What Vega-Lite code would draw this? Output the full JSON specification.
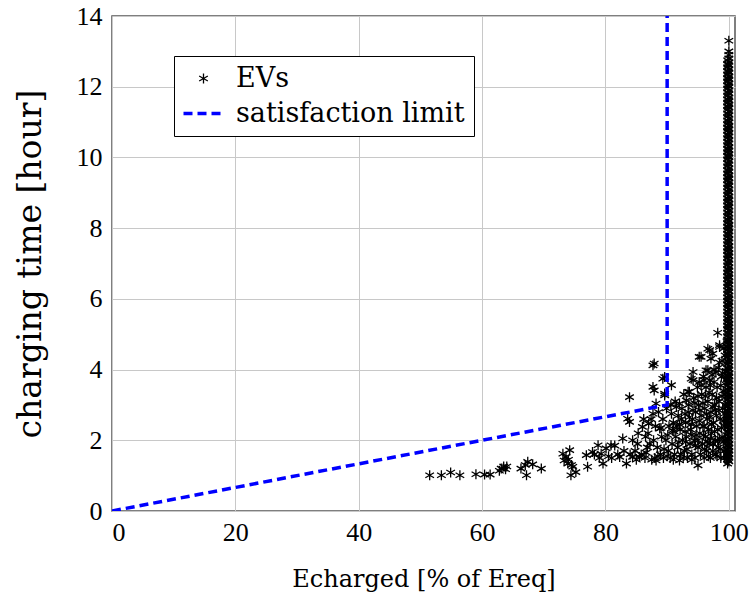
{
  "$schema": "https://vega.github.io/schema/vega-lite/v6.json",
  "width": 623,
  "height": 495,
  "autosize": {"type": "none"},
  "padding": {"left": 112, "top": 16, "right": 19, "bottom": 90},
  "background": "white",
  "config": {
    "view": {"stroke": "#555555", "strokeWidth": 1.5},
    "axis": {
      "grid": true, "gridColor": "#c8c8c8", "gridWidth": 1, "domain": false, "ticks": false,
      "labelFont": "Liberation Serif", "labelFontSize": 26, "labelColor": "#000000",
      "titleFont": "DejaVu Serif", "titleFontWeight": "normal", "titleColor": "#000000"
    }
  },
  "datasets": {
    "limit": [
      {"s": "satisfaction limit", "x": 0, "y": 0, "o": 1},
      {"s": "satisfaction limit", "x": 90, "y": 3, "o": 2},
      {"s": "satisfaction limit", "x": 90, "y": 14, "o": 3}
    ],
    "ev": [
      {"s":"EVs","x":51.5,"y":1.01},{"s":"EVs","x":53.4,"y":1.01},{"s":"EVs","x":54.9,"y":1.09},{"s":"EVs","x":56.4,"y":1.01},
      {"s":"EVs","x":59.0,"y":1.04},{"s":"EVs","x":60.4,"y":1.03},{"s":"EVs","x":61.3,"y":1.03},{"s":"EVs","x":62.8,"y":1.14},
      {"s":"EVs","x":63.1,"y":1.2},{"s":"EVs","x":63.5,"y":1.26},{"s":"EVs","x":64.0,"y":1.26},{"s":"EVs","x":63.8,"y":1.18},
      {"s":"EVs","x":66.3,"y":1.2},{"s":"EVs","x":67.4,"y":1.39},{"s":"EVs","x":68.2,"y":1.32},{"s":"EVs","x":69.6,"y":1.2},
      {"s":"EVs","x":67.2,"y":1.01},{"s":"EVs","x":67.0,"y":1.3},
      {"s":"EVs","x":73.1,"y":1.62},{"s":"EVs","x":74.2,"y":1.72},{"s":"EVs","x":73.3,"y":1.43},{"s":"EVs","x":73.9,"y":1.34},
      {"s":"EVs","x":74.7,"y":1.25},{"s":"EVs","x":75.2,"y":1.1},{"s":"EVs","x":74.4,"y":1.01},{"s":"EVs","x":73.6,"y":1.53},
      {"s":"EVs","x":74.0,"y":1.45},{"s":"EVs","x":74.5,"y":1.3},{"s":"EVs","x":77.1,"y":1.25},{"s":"EVs","x":76.9,"y":1.58},
      {"s":"EVs","x":77.9,"y":1.67},{"s":"EVs","x":78.8,"y":1.86},{"s":"EVs","x":79.3,"y":1.62},{"s":"EVs","x":79.6,"y":1.34},
      {"s":"EVs","x":80.1,"y":1.77},{"s":"EVs","x":80.9,"y":1.86},{"s":"EVs","x":79.0,"y":1.5},{"s":"EVs","x":78.2,"y":1.6},
      {"s":"EVs","x":81.5,"y":1.85},{"s":"EVs","x":82.3,"y":1.53},{"s":"EVs","x":82.8,"y":2.05},{"s":"EVs","x":83.4,"y":1.34},
      {"s":"EVs","x":83.9,"y":3.22},{"s":"EVs","x":83.6,"y":2.61},{"s":"EVs","x":83.9,"y":2.52},{"s":"EVs","x":84.4,"y":2.0},
      {"s":"EVs","x":84.4,"y":1.53},{"s":"EVs","x":84.8,"y":1.7},{"s":"EVs","x":85.5,"y":1.53},{"s":"EVs","x":85.2,"y":1.9},
      {"s":"EVs","x":86.0,"y":2.38},{"s":"EVs","x":86.5,"y":2.1},{"s":"EVs","x":87.0,"y":2.47},{"s":"EVs","x":86.8,"y":1.8},
      {"s":"EVs","x":87.7,"y":4.12},{"s":"EVs","x":87.9,"y":4.17},{"s":"EVs","x":87.7,"y":3.51},{"s":"EVs","x":87.9,"y":3.41},
      {"s":"EVs","x":88.2,"y":3.04},{"s":"EVs","x":87.7,"y":2.75},{"s":"EVs","x":88.8,"y":2.33},{"s":"EVs","x":88.2,"y":1.43},
      {"s":"EVs","x":88.5,"y":1.55},{"s":"EVs","x":88.0,"y":1.5},{"s":"EVs","x":87.5,"y":1.45},{"s":"EVs","x":89.6,"y":3.79},
      {"s":"EVs","x":89.6,"y":3.32},{"s":"EVs","x":89.3,"y":3.74},{"s":"EVs","x":89.6,"y":3.27},{"s":"EVs","x":90.7,"y":3.56},
      {"s":"EVs","x":90.7,"y":2.75},{"s":"EVs","x":90.9,"y":2.28},{"s":"EVs","x":91.5,"y":2.94},{"s":"EVs","x":92.0,"y":3.04},
      {"s":"EVs","x":92.0,"y":1.43},{"s":"EVs","x":93.1,"y":3.13},{"s":"EVs","x":93.6,"y":3.37},{"s":"EVs","x":93.4,"y":3.37},
      {"s":"EVs","x":94.2,"y":3.93},{"s":"EVs","x":94.2,"y":3.7},{"s":"EVs","x":93.9,"y":3.74},{"s":"EVs","x":95.5,"y":4.36},
      {"s":"EVs","x":95.2,"y":4.36},{"s":"EVs","x":95.2,"y":3.65},{"s":"EVs","x":96.9,"y":4.55},{"s":"EVs","x":97.1,"y":4.31},
      {"s":"EVs","x":96.6,"y":4.59},{"s":"EVs","x":97.4,"y":4.45},{"s":"EVs","x":98.2,"y":5.04},{"s":"EVs","x":98.5,"y":4.64},
      {"s":"EVs","x":98.5,"y":4.69},{"s":"EVs","x":96.6,"y":3.98},{"s":"EVs","x":96.3,"y":3.98},{"s":"EVs","x":97.9,"y":3.93},
      {"s":"EVs","x":95.0,"y":1.29},{"s":"EVs","x":99.8,"y":1.34},
      {"s":"EVs","x":85.3,"y":2.2},{"s":"EVs","x":85.8,"y":1.6},{"s":"EVs","x":86.2,"y":2.6},{"s":"EVs","x":86.4,"y":1.5},
      {"s":"EVs","x":86.9,"y":2.2},{"s":"EVs","x":87.2,"y":1.9},{"s":"EVs","x":87.4,"y":2.6},{"s":"EVs","x":87.8,"y":2.0},
      {"s":"EVs","x":88.1,"y":2.4},{"s":"EVs","x":88.4,"y":1.8},{"s":"EVs","x":88.6,"y":2.8},{"s":"EVs","x":88.9,"y":1.6},
      {"s":"EVs","x":89.1,"y":2.1},{"s":"EVs","x":89.3,"y":2.6},{"s":"EVs","x":89.4,"y":1.5},{"s":"EVs","x":89.8,"y":2.0},
      {"s":"EVs","x":89.9,"y":2.9},{"s":"EVs","x":90.2,"y":1.7},{"s":"EVs","x":90.3,"y":2.4},{"s":"EVs","x":90.5,"y":1.5},
      {"s":"EVs","x":90.6,"y":3.0},{"s":"EVs","x":90.8,"y":1.9},{"s":"EVs","x":91.0,"y":2.5},{"s":"EVs","x":91.2,"y":1.6},
      {"s":"EVs","x":91.3,"y":3.1},{"s":"EVs","x":91.4,"y":2.1},{"s":"EVs","x":91.7,"y":1.8},{"s":"EVs","x":91.8,"y":2.7},
      {"s":"EVs","x":92.1,"y":2.3},{"s":"EVs","x":92.2,"y":1.6},{"s":"EVs","x":92.4,"y":2.9},{"s":"EVs","x":92.5,"y":2.0},
      {"s":"EVs","x":92.7,"y":3.3},{"s":"EVs","x":92.8,"y":1.7},{"s":"EVs","x":93.0,"y":2.5},{"s":"EVs","x":93.1,"y":2.1},
      {"s":"EVs","x":93.3,"y":1.5},{"s":"EVs","x":93.4,"y":2.8},{"s":"EVs","x":93.5,"y":3.0},{"s":"EVs","x":93.7,"y":1.9},
      {"s":"EVs","x":93.8,"y":2.3},{"s":"EVs","x":94.0,"y":1.6},{"s":"EVs","x":94.1,"y":2.6},{"s":"EVs","x":94.3,"y":3.2},
      {"s":"EVs","x":94.4,"y":2.0},{"s":"EVs","x":94.5,"y":1.5},{"s":"EVs","x":94.6,"y":2.8},{"s":"EVs","x":94.8,"y":2.4},
      {"s":"EVs","x":94.9,"y":3.5},{"s":"EVs","x":95.0,"y":1.8},{"s":"EVs","x":95.1,"y":3.0},{"s":"EVs","x":95.3,"y":2.2},
      {"s":"EVs","x":95.4,"y":1.6},{"s":"EVs","x":95.5,"y":2.7},{"s":"EVs","x":95.6,"y":3.3},{"s":"EVs","x":95.7,"y":1.9},
      {"s":"EVs","x":95.8,"y":2.4},{"s":"EVs","x":95.9,"y":3.8},{"s":"EVs","x":96.0,"y":1.5},{"s":"EVs","x":96.1,"y":2.9},
      {"s":"EVs","x":96.2,"y":2.1},{"s":"EVs","x":96.3,"y":3.5},{"s":"EVs","x":96.4,"y":1.7},{"s":"EVs","x":96.5,"y":2.6},
      {"s":"EVs","x":96.6,"y":3.1},{"s":"EVs","x":96.7,"y":2.3},{"s":"EVs","x":96.8,"y":1.9},{"s":"EVs","x":96.9,"y":3.7},
      {"s":"EVs","x":97.0,"y":1.5},{"s":"EVs","x":97.1,"y":2.8},{"s":"EVs","x":97.2,"y":2.2},{"s":"EVs","x":97.3,"y":3.3},
      {"s":"EVs","x":97.4,"y":1.7},{"s":"EVs","x":97.5,"y":2.5},{"s":"EVs","x":97.6,"y":4.0},{"s":"EVs","x":97.7,"y":3.0},
      {"s":"EVs","x":97.8,"y":2.0},{"s":"EVs","x":97.9,"y":1.6},{"s":"EVs","x":98.0,"y":2.7},{"s":"EVs","x":98.1,"y":3.5},
      {"s":"EVs","x":98.2,"y":2.3},{"s":"EVs","x":98.3,"y":1.8},{"s":"EVs","x":98.4,"y":3.1},{"s":"EVs","x":98.5,"y":4.2},
      {"s":"EVs","x":98.6,"y":2.6},{"s":"EVs","x":98.7,"y":1.5},{"s":"EVs","x":98.8,"y":3.8},{"s":"EVs","x":98.9,"y":2.1},
      {"s":"EVs","x":99.0,"y":2.9},{"s":"EVs","x":99.1,"y":3.4},{"s":"EVs","x":99.2,"y":1.7},{"s":"EVs","x":99.3,"y":2.4},
      {"s":"EVs","x":99.4,"y":4.4},{"s":"EVs","x":99.5,"y":3.0},{"s":"EVs","x":99.5,"y":2.0},{"s":"EVs","x":99.6,"y":1.6},
      {"s":"EVs","x":99.6,"y":3.7},{"s":"EVs","x":99.7,"y":2.7},{"s":"EVs","x":99.7,"y":4.8},
      {"s":"EVs","x":93.2,"y":1.75},{"s":"EVs","x":94.7,"y":2.15},{"s":"EVs","x":95.2,"y":2.55},{"s":"EVs","x":96.1,"y":1.75},
      {"s":"EVs","x":97.4,"y":2.95},{"s":"EVs","x":98.8,"y":2.35},{"s":"EVs","x":97.0,"y":3.55},{"s":"EVs","x":95.8,"y":3.05},
      {"s":"EVs","x":94.2,"y":2.85},{"s":"EVs","x":92.9,"y":2.25},{"s":"EVs","x":91.9,"y":1.95},{"s":"EVs","x":90.1,"y":2.15},
      {"s":"EVs","x":89.5,"y":1.75},{"s":"EVs","x":98.3,"y":4.05},{"s":"EVs","x":99.2,"y":4.6},{"s":"EVs","x":99.0,"y":3.9},
      {"s":"EVs","x":98.0,"y":3.2},{"s":"EVs","x":96.0,"y":2.4},{"s":"EVs","x":95.0,"y":2.0},{"s":"EVs","x":97.5,"y":1.9},
      {"s":"EVs","x":98.6,"y":1.75},{"s":"EVs","x":99.3,"y":1.5},{"s":"EVs","x":96.7,"y":1.55},{"s":"EVs","x":94.0,"y":1.45},
      {"s":"EVs","x":92.6,"y":1.5},{"s":"EVs","x":91.0,"y":1.45},{"s":"EVs","x":90.0,"y":1.55},{"s":"EVs","x":86.6,"y":1.65},
      {"s":"EVs","x":85.0,"y":1.45},{"s":"EVs","x":84.0,"y":1.6},{"s":"EVs","x":83.0,"y":1.7},{"s":"EVs","x":82.0,"y":1.6},
      {"s":"EVs","x":81.0,"y":1.5},{"s":"EVs","x":80.5,"y":1.55},
      {"s":"EVs","x":96.4,"y":2.75},{"s":"EVs","x":97.2,"y":2.45},{"s":"EVs","x":97.8,"y":2.85},{"s":"EVs","x":98.5,"y":2.05},
      {"s":"EVs","x":98.9,"y":3.25},{"s":"EVs","x":99.3,"y":2.75},{"s":"EVs","x":99.1,"y":1.95},{"s":"EVs","x":98.1,"y":1.55},
      {"s":"EVs","x":97.6,"y":3.65},{"s":"EVs","x":96.8,"y":3.35},{"s":"EVs","x":95.5,"y":3.55},{"s":"EVs","x":94.6,"y":1.85},
      {"s":"EVs","x":93.6,"y":2.65},{"s":"EVs","x":92.3,"y":2.6},{"s":"EVs","x":91.1,"y":2.25},{"s":"EVs","x":89.0,"y":2.35},
      {"s":"EVs","x":92.0,"y":2.45},{"s":"EVs","x":92.9,"y":2.75},{"s":"EVs","x":93.9,"y":2.45},{"s":"EVs","x":94.5,"y":3.05},
      {"s":"EVs","x":95.3,"y":2.85},{"s":"EVs","x":96.2,"y":3.25},{"s":"EVs","x":96.9,"y":2.65},{"s":"EVs","x":97.7,"y":2.25},
      {"s":"EVs","x":98.4,"y":2.85},{"s":"EVs","x":99.1,"y":2.55},{"s":"EVs","x":98.7,"y":3.55},{"s":"EVs","x":97.3,"y":3.85},
      {"s":"EVs","x":96.0,"y":3.7},{"s":"EVs","x":95.0,"y":3.25},{"s":"EVs","x":94.0,"y":2.15},{"s":"EVs","x":93.0,"y":1.95},
      {"s":"EVs","x":95.9,"y":2.15},{"s":"EVs","x":97.0,"y":2.05},{"s":"EVs","x":98.2,"y":2.0},{"s":"EVs","x":99.4,"y":3.3},
      {"s":"EVs","x":99.5,"y":3.95},{"s":"EVs","x":98.9,"y":4.25},{"s":"EVs","x":96.5,"y":1.95},{"s":"EVs","x":91.6,"y":2.4},
      {"s":"EVs","x":100,"y":13.3},{"s":"EVs","x":100,"y":13.0},
      {"s":"EVs","x":100,"y":1.4},{"s":"EVs","x":100,"y":1.5},{"s":"EVs","x":100,"y":1.6},{"s":"EVs","x":100,"y":1.7},{"s":"EVs","x":100,"y":1.8},{"s":"EVs","x":100,"y":1.9},
      {"s":"EVs","x":100,"y":2.0},{"s":"EVs","x":100,"y":2.1},{"s":"EVs","x":100,"y":2.2},{"s":"EVs","x":100,"y":2.3},{"s":"EVs","x":100,"y":2.4},{"s":"EVs","x":100,"y":2.5},
      {"s":"EVs","x":100,"y":2.6},{"s":"EVs","x":100,"y":2.7},{"s":"EVs","x":100,"y":2.8},{"s":"EVs","x":100,"y":2.9},{"s":"EVs","x":100,"y":3.0},{"s":"EVs","x":100,"y":3.1},
      {"s":"EVs","x":100,"y":3.2},{"s":"EVs","x":100,"y":3.3},{"s":"EVs","x":100,"y":3.4},{"s":"EVs","x":100,"y":3.5},{"s":"EVs","x":100,"y":3.6},{"s":"EVs","x":100,"y":3.7},
      {"s":"EVs","x":100,"y":3.8},{"s":"EVs","x":100,"y":3.9},{"s":"EVs","x":100,"y":4.0},{"s":"EVs","x":100,"y":4.1},{"s":"EVs","x":100,"y":4.2},{"s":"EVs","x":100,"y":4.3},
      {"s":"EVs","x":100,"y":4.4},{"s":"EVs","x":100,"y":4.5},{"s":"EVs","x":100,"y":4.6},{"s":"EVs","x":100,"y":4.7},{"s":"EVs","x":100,"y":4.8},{"s":"EVs","x":100,"y":4.9},
      {"s":"EVs","x":100,"y":5.0},{"s":"EVs","x":100,"y":5.1},{"s":"EVs","x":100,"y":5.2},{"s":"EVs","x":100,"y":5.3},{"s":"EVs","x":100,"y":5.4},{"s":"EVs","x":100,"y":5.5},
      {"s":"EVs","x":100,"y":5.6},{"s":"EVs","x":100,"y":5.7},{"s":"EVs","x":100,"y":5.8},{"s":"EVs","x":100,"y":5.9},{"s":"EVs","x":100,"y":6.0},{"s":"EVs","x":100,"y":6.1},
      {"s":"EVs","x":100,"y":6.2},{"s":"EVs","x":100,"y":6.3},{"s":"EVs","x":100,"y":6.4},{"s":"EVs","x":100,"y":6.5},{"s":"EVs","x":100,"y":6.6},{"s":"EVs","x":100,"y":6.7},
      {"s":"EVs","x":100,"y":6.8},{"s":"EVs","x":100,"y":6.9},{"s":"EVs","x":100,"y":7.0},{"s":"EVs","x":100,"y":7.1},{"s":"EVs","x":100,"y":7.2},{"s":"EVs","x":100,"y":7.3},
      {"s":"EVs","x":100,"y":7.4},{"s":"EVs","x":100,"y":7.5},{"s":"EVs","x":100,"y":7.6},{"s":"EVs","x":100,"y":7.7},{"s":"EVs","x":100,"y":7.8},{"s":"EVs","x":100,"y":7.9},
      {"s":"EVs","x":100,"y":8.0},{"s":"EVs","x":100,"y":8.1},{"s":"EVs","x":100,"y":8.2},{"s":"EVs","x":100,"y":8.3},{"s":"EVs","x":100,"y":8.4},{"s":"EVs","x":100,"y":8.5},
      {"s":"EVs","x":100,"y":8.6},{"s":"EVs","x":100,"y":8.7},{"s":"EVs","x":100,"y":8.8},{"s":"EVs","x":100,"y":8.9},{"s":"EVs","x":100,"y":9.0},{"s":"EVs","x":100,"y":9.1},
      {"s":"EVs","x":100,"y":9.2},{"s":"EVs","x":100,"y":9.3},{"s":"EVs","x":100,"y":9.4},{"s":"EVs","x":100,"y":9.5},{"s":"EVs","x":100,"y":9.6},{"s":"EVs","x":100,"y":9.7},
      {"s":"EVs","x":100,"y":9.8},{"s":"EVs","x":100,"y":9.9},{"s":"EVs","x":100,"y":10.0},{"s":"EVs","x":100,"y":10.1},{"s":"EVs","x":100,"y":10.2},{"s":"EVs","x":100,"y":10.3},
      {"s":"EVs","x":100,"y":10.4},{"s":"EVs","x":100,"y":10.5},{"s":"EVs","x":100,"y":10.6},{"s":"EVs","x":100,"y":10.7},{"s":"EVs","x":100,"y":10.8},{"s":"EVs","x":100,"y":10.9},
      {"s":"EVs","x":100,"y":11.0},{"s":"EVs","x":100,"y":11.1},{"s":"EVs","x":100,"y":11.2},{"s":"EVs","x":100,"y":11.3},{"s":"EVs","x":100,"y":11.4},{"s":"EVs","x":100,"y":11.5},
      {"s":"EVs","x":100,"y":11.6},{"s":"EVs","x":100,"y":11.7},{"s":"EVs","x":100,"y":11.8},{"s":"EVs","x":100,"y":11.9},{"s":"EVs","x":100,"y":12.0},{"s":"EVs","x":100,"y":12.1},
      {"s":"EVs","x":100,"y":12.2},{"s":"EVs","x":100,"y":12.3},{"s":"EVs","x":100,"y":12.4},{"s":"EVs","x":100,"y":12.5},{"s":"EVs","x":100,"y":12.6},{"s":"EVs","x":100,"y":12.7},
      {"s":"EVs","x":100,"y":12.8},{"s":"EVs","x":100,"y":12.9},
      {"s":"EVs","x":99.8,"y":1.45},{"s":"EVs","x":99.8,"y":1.55},{"s":"EVs","x":99.8,"y":1.65},{"s":"EVs","x":99.8,"y":1.75},{"s":"EVs","x":99.8,"y":1.85},{"s":"EVs","x":99.8,"y":1.95},
      {"s":"EVs","x":99.8,"y":2.05},{"s":"EVs","x":99.8,"y":2.15},{"s":"EVs","x":99.8,"y":2.25},{"s":"EVs","x":99.8,"y":2.35},{"s":"EVs","x":99.8,"y":2.45},{"s":"EVs","x":99.8,"y":2.55},
      {"s":"EVs","x":99.8,"y":2.65},{"s":"EVs","x":99.8,"y":2.75},{"s":"EVs","x":99.8,"y":2.85},{"s":"EVs","x":99.8,"y":2.95},{"s":"EVs","x":99.8,"y":3.05},{"s":"EVs","x":99.8,"y":3.15},
      {"s":"EVs","x":99.8,"y":3.25},{"s":"EVs","x":99.8,"y":3.35},{"s":"EVs","x":99.8,"y":3.45},{"s":"EVs","x":99.8,"y":3.55},{"s":"EVs","x":99.8,"y":3.65},{"s":"EVs","x":99.8,"y":3.75},
      {"s":"EVs","x":99.8,"y":3.85},{"s":"EVs","x":99.8,"y":3.95},{"s":"EVs","x":99.8,"y":4.05},{"s":"EVs","x":99.8,"y":4.15},{"s":"EVs","x":99.8,"y":4.25},{"s":"EVs","x":99.8,"y":4.35},
      {"s":"EVs","x":99.8,"y":4.45},{"s":"EVs","x":99.8,"y":4.55},{"s":"EVs","x":99.8,"y":4.65},{"s":"EVs","x":99.8,"y":4.75},{"s":"EVs","x":99.8,"y":4.85},{"s":"EVs","x":99.8,"y":4.95},
      {"s":"EVs","x":99.8,"y":5.05},{"s":"EVs","x":99.8,"y":5.15},{"s":"EVs","x":99.8,"y":5.25},{"s":"EVs","x":99.8,"y":5.35},{"s":"EVs","x":99.8,"y":5.45},{"s":"EVs","x":99.8,"y":5.55},
      {"s":"EVs","x":99.8,"y":5.65},{"s":"EVs","x":99.8,"y":5.75},{"s":"EVs","x":99.8,"y":5.85},{"s":"EVs","x":99.8,"y":5.95},{"s":"EVs","x":99.8,"y":6.05},{"s":"EVs","x":99.8,"y":6.15},
      {"s":"EVs","x":99.8,"y":6.25},{"s":"EVs","x":99.8,"y":6.35},{"s":"EVs","x":99.8,"y":6.45},{"s":"EVs","x":99.8,"y":6.55},{"s":"EVs","x":99.8,"y":6.65},{"s":"EVs","x":99.8,"y":6.75},
      {"s":"EVs","x":99.8,"y":6.85},{"s":"EVs","x":99.8,"y":6.95},{"s":"EVs","x":99.8,"y":7.05},{"s":"EVs","x":99.8,"y":7.15},{"s":"EVs","x":99.8,"y":7.25},{"s":"EVs","x":99.8,"y":7.35},
      {"s":"EVs","x":99.8,"y":7.45},{"s":"EVs","x":99.8,"y":7.55},{"s":"EVs","x":99.8,"y":7.65},{"s":"EVs","x":99.8,"y":7.75},{"s":"EVs","x":99.8,"y":7.85},{"s":"EVs","x":99.8,"y":7.95},
      {"s":"EVs","x":99.8,"y":8.05},{"s":"EVs","x":99.8,"y":8.15},{"s":"EVs","x":99.8,"y":8.25},{"s":"EVs","x":99.8,"y":8.35},{"s":"EVs","x":99.8,"y":8.45},{"s":"EVs","x":99.8,"y":8.55},
      {"s":"EVs","x":99.8,"y":8.65},{"s":"EVs","x":99.8,"y":8.75},{"s":"EVs","x":99.8,"y":8.85},{"s":"EVs","x":99.8,"y":8.95},{"s":"EVs","x":99.8,"y":9.05},{"s":"EVs","x":99.8,"y":9.15},
      {"s":"EVs","x":99.8,"y":9.25},{"s":"EVs","x":99.8,"y":9.35},{"s":"EVs","x":99.8,"y":9.45},{"s":"EVs","x":99.8,"y":9.55},{"s":"EVs","x":99.8,"y":9.65},{"s":"EVs","x":99.8,"y":9.75},
      {"s":"EVs","x":99.8,"y":9.85},{"s":"EVs","x":99.8,"y":9.95},{"s":"EVs","x":99.8,"y":10.05},{"s":"EVs","x":99.8,"y":10.15},{"s":"EVs","x":99.8,"y":10.25},{"s":"EVs","x":99.8,"y":10.35},
      {"s":"EVs","x":99.8,"y":10.45},{"s":"EVs","x":99.8,"y":10.55},{"s":"EVs","x":99.8,"y":10.65},{"s":"EVs","x":99.8,"y":10.75},{"s":"EVs","x":99.8,"y":10.85},{"s":"EVs","x":99.8,"y":10.95},
      {"s":"EVs","x":99.8,"y":11.05},{"s":"EVs","x":99.8,"y":11.15},{"s":"EVs","x":99.8,"y":11.25},{"s":"EVs","x":99.8,"y":11.35},{"s":"EVs","x":99.8,"y":11.45},{"s":"EVs","x":99.8,"y":11.55},
      {"s":"EVs","x":99.8,"y":11.65},{"s":"EVs","x":99.8,"y":11.75},{"s":"EVs","x":99.8,"y":11.85},{"s":"EVs","x":99.8,"y":11.95},{"s":"EVs","x":99.8,"y":12.05},{"s":"EVs","x":99.8,"y":12.15},
      {"s":"EVs","x":99.8,"y":12.25},{"s":"EVs","x":99.8,"y":12.35},{"s":"EVs","x":99.8,"y":12.45},{"s":"EVs","x":99.8,"y":12.55},{"s":"EVs","x":99.8,"y":12.65},{"s":"EVs","x":99.8,"y":12.75},
      {"s":"EVs","x":99.9,"y":1.43},{"s":"EVs","x":99.9,"y":1.63},{"s":"EVs","x":99.9,"y":1.83},{"s":"EVs","x":99.9,"y":2.03},{"s":"EVs","x":99.9,"y":2.23},{"s":"EVs","x":99.9,"y":2.43},
      {"s":"EVs","x":99.9,"y":2.63},{"s":"EVs","x":99.9,"y":2.83},{"s":"EVs","x":99.9,"y":3.03},{"s":"EVs","x":99.9,"y":3.23},{"s":"EVs","x":99.9,"y":3.43},{"s":"EVs","x":99.9,"y":3.63},
      {"s":"EVs","x":99.9,"y":3.83},{"s":"EVs","x":99.9,"y":4.03},{"s":"EVs","x":99.9,"y":4.23},{"s":"EVs","x":99.9,"y":4.43},{"s":"EVs","x":99.9,"y":4.63},{"s":"EVs","x":99.9,"y":4.83},
      {"s":"EVs","x":99.9,"y":5.03},{"s":"EVs","x":99.9,"y":5.23},{"s":"EVs","x":99.9,"y":5.43},{"s":"EVs","x":99.9,"y":5.63},{"s":"EVs","x":99.9,"y":5.83},{"s":"EVs","x":99.9,"y":6.03},
      {"s":"EVs","x":99.9,"y":6.23},{"s":"EVs","x":99.9,"y":6.43},{"s":"EVs","x":99.9,"y":6.63},{"s":"EVs","x":99.9,"y":6.83},{"s":"EVs","x":99.9,"y":7.03},{"s":"EVs","x":99.9,"y":7.23},
      {"s":"EVs","x":99.9,"y":7.43},{"s":"EVs","x":99.9,"y":7.63},{"s":"EVs","x":99.9,"y":7.83},{"s":"EVs","x":99.9,"y":8.03},{"s":"EVs","x":99.9,"y":8.23},{"s":"EVs","x":99.9,"y":8.43},
      {"s":"EVs","x":99.9,"y":8.63},{"s":"EVs","x":99.9,"y":8.83},{"s":"EVs","x":99.9,"y":9.03},{"s":"EVs","x":99.9,"y":9.23},{"s":"EVs","x":99.9,"y":9.43},{"s":"EVs","x":99.9,"y":9.63},
      {"s":"EVs","x":99.9,"y":9.83},{"s":"EVs","x":99.9,"y":10.03},{"s":"EVs","x":99.9,"y":10.23},{"s":"EVs","x":99.9,"y":10.43},{"s":"EVs","x":99.9,"y":10.63},{"s":"EVs","x":99.9,"y":10.83},
      {"s":"EVs","x":99.9,"y":11.03},{"s":"EVs","x":99.9,"y":11.23},{"s":"EVs","x":99.9,"y":11.43},{"s":"EVs","x":99.9,"y":11.63},{"s":"EVs","x":99.9,"y":11.83},{"s":"EVs","x":99.9,"y":12.03},
      {"s":"EVs","x":99.9,"y":12.23},{"s":"EVs","x":99.9,"y":12.43},{"s":"EVs","x":99.9,"y":12.63}
    ]
  },
  "encoding": {
    "x": {"field": "x", "type": "quantitative", "scale": {"domain": [0, 101], "nice": false},
      "axis": {"values": [0, 20, 40, 60, 80, 100], "title": "Echarged [% of Ereq]", "titleFontSize": 24, "titlePadding": 22, "labelPadding": 8}},
    "y": {"field": "y", "type": "quantitative", "scale": {"domain": [0, 14], "nice": false},
      "axis": {"values": [0, 2, 4, 6, 8, 10, 12, 14], "title": "charging time [hour]", "titleFontSize": 33, "titleX": -65, "labelPadding": 10}}
  },
  "layer": [
    {
      "data": {"name": "ev"},
      "mark": {"type": "point", "filled": false, "opacity": 1, "clip": true, "strokeWidth": 1.3},
      "encoding": {
        "color": {"field": "s", "type": "nominal", "scale": {"domain": ["EVs", "satisfaction limit"], "range": ["#000000", "#0000ff"]},
          "legend": {"title": null, "orient": "none", "legendX": 62, "legendY": 40, "direction": "vertical",
            "labelFont": "DejaVu Serif", "labelFontSize": 27, "labelColor": "#000000", "labelOffset": 19, "labelLimit": 400,
            "symbolOffset": 7, "strokeColor": "#000000", "fillColor": "#ffffff", "padding": 9, "rowPadding": 7, "symbolFillColor": "transparent", "cornerRadius": 0,
            "encoding": {"symbols": {"strokeWidth": {"value": {"expr": "datum.value === 'EVs' ? 1.3 : 3.5"}}}}}},
        "shape": {"field": "s", "type": "nominal", "scale": {"domain": ["EVs", "satisfaction limit"], "range": ["M0,-1L0,1M-0.866,-0.5L0.866,0.5M-0.866,0.5L0.866,-0.5", "stroke"]}},
        "size": {"field": "s", "type": "nominal", "scale": {"type": "ordinal", "domain": ["EVs", "satisfaction limit"], "range": [100, 1600]}},
        "strokeDash": {"field": "s", "type": "nominal", "scale": {"domain": ["EVs", "satisfaction limit"], "range": [[1, 0], [9, 5]]}}
      }
    },
    {
      "data": {"name": "limit"},
      "mark": {"type": "line", "clip": true, "strokeWidth": 3.5},
      "encoding": {
        "order": {"field": "o", "type": "quantitative"},
        "color": {"field": "s", "type": "nominal"},
        "strokeDash": {"field": "s", "type": "nominal"}
      }
    }
  ]
}
